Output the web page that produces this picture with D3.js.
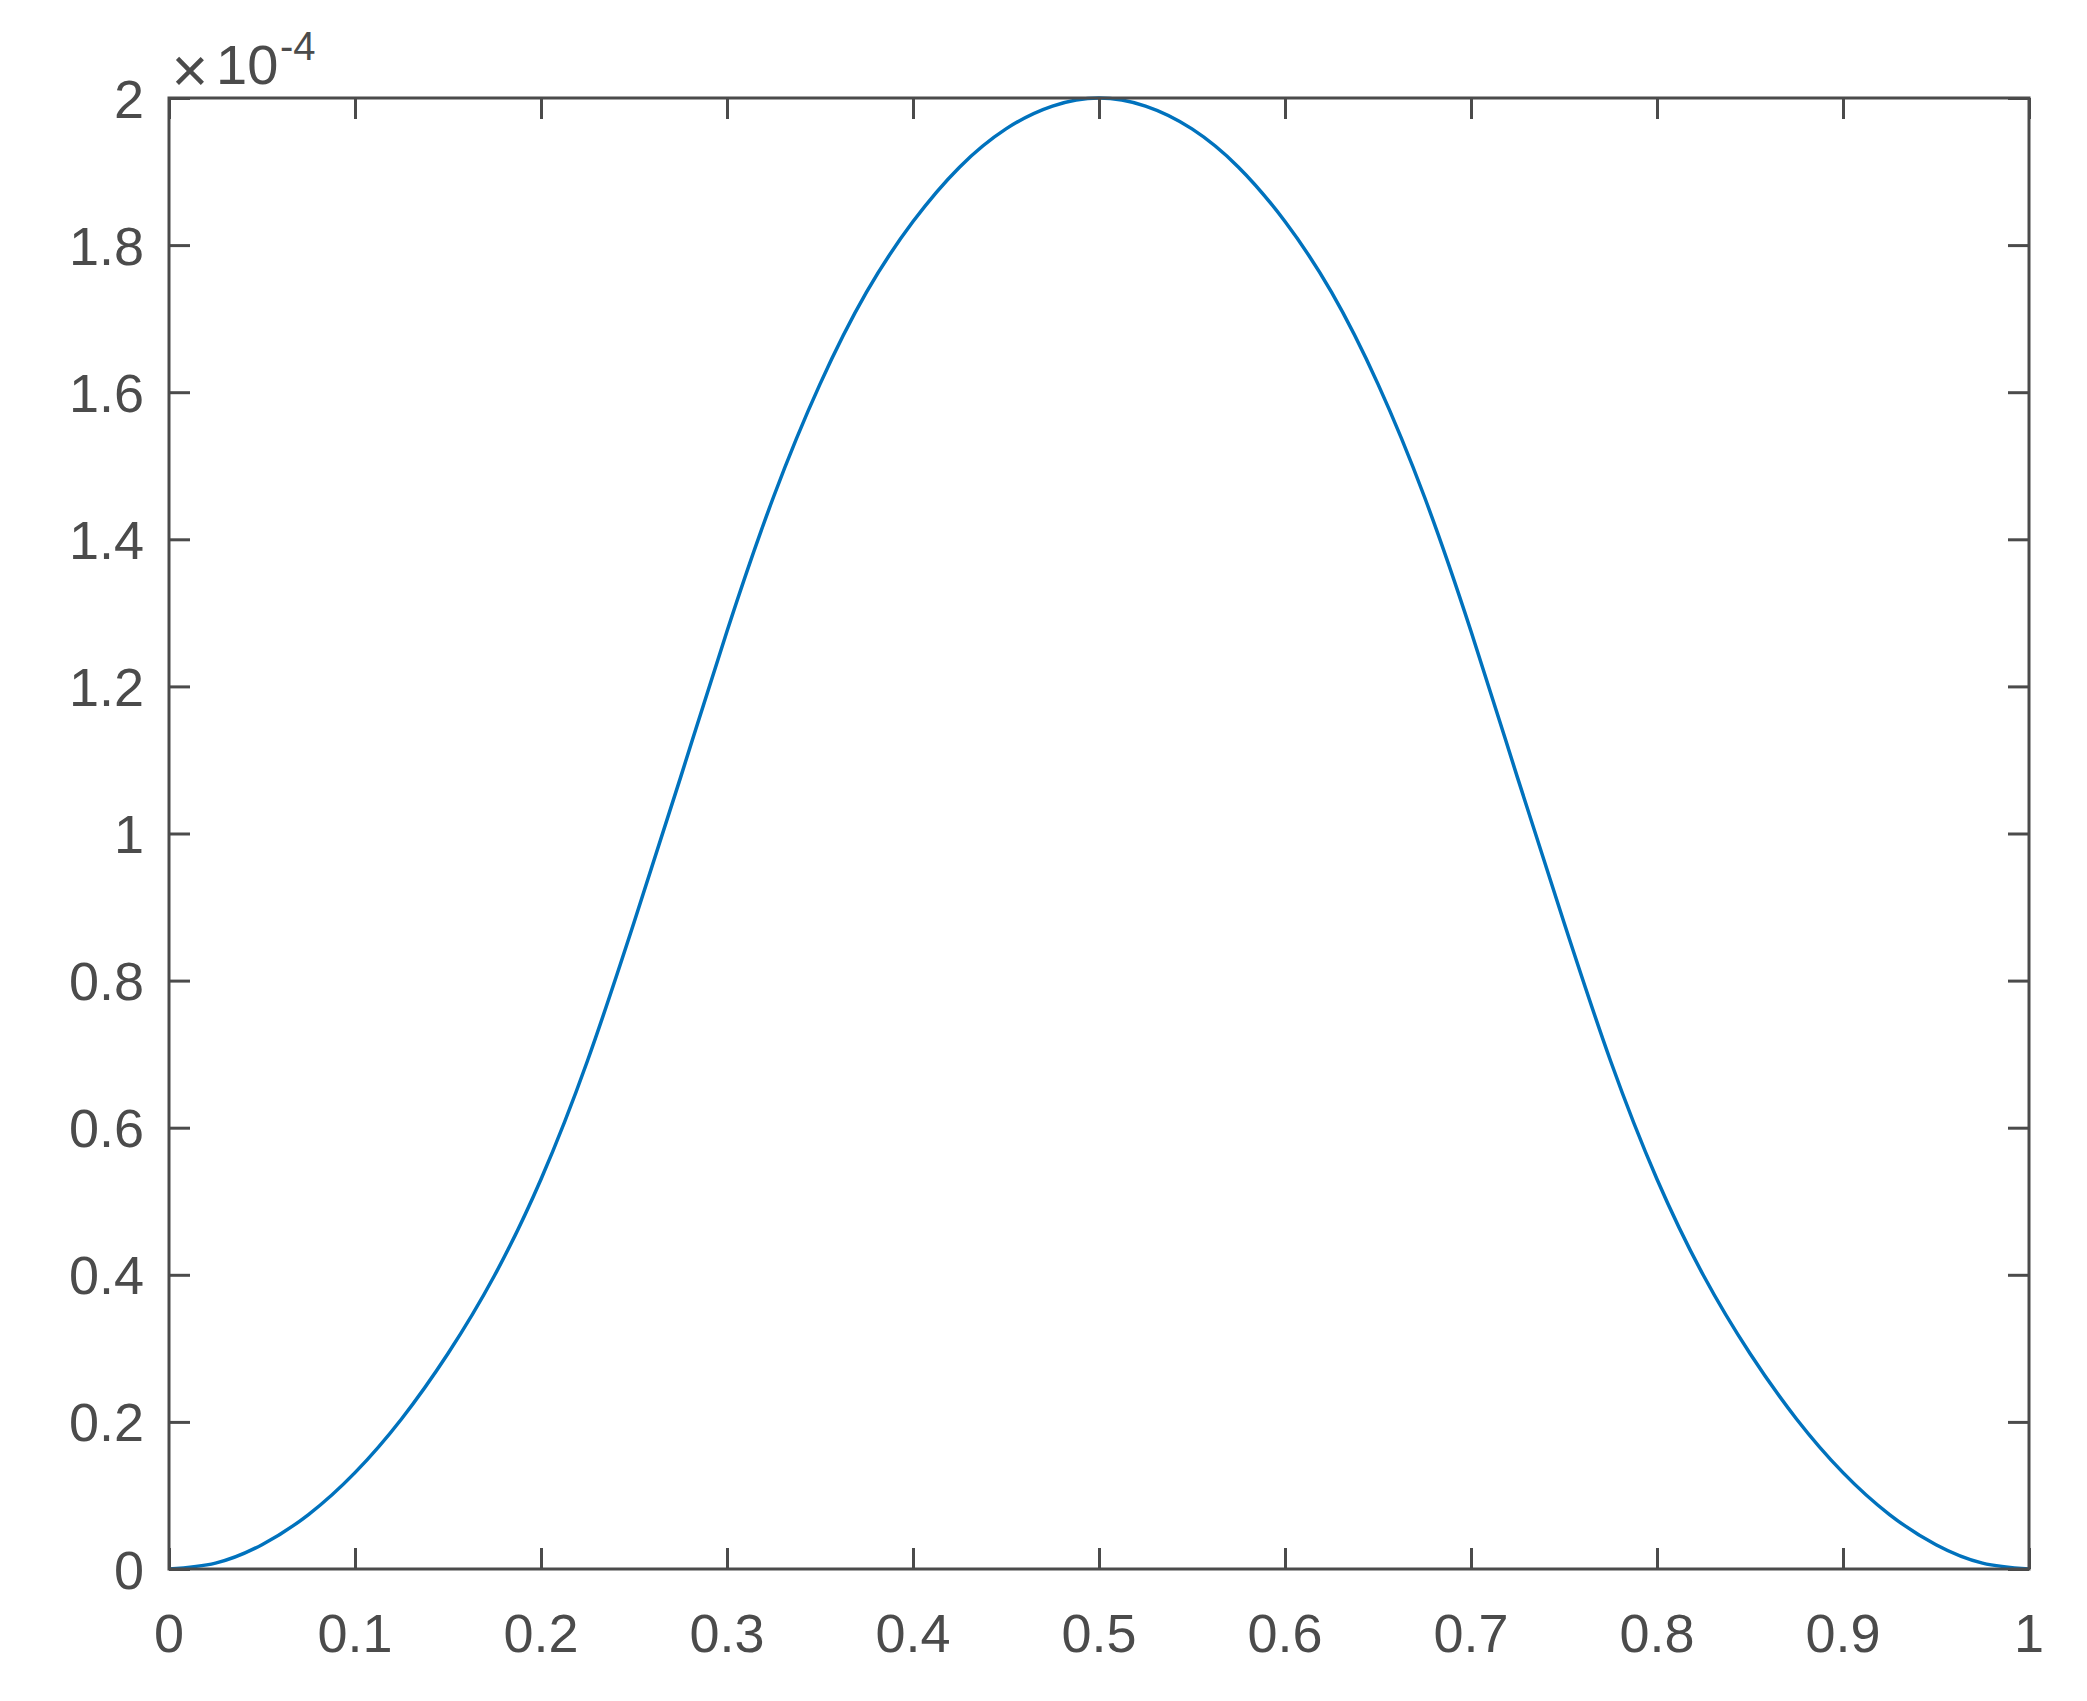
<!DOCTYPE html>
<html>
<head>
<meta charset="utf-8">
<script src="https://cdn.jsdelivr.net/npm/d3@7"></script>
<style>
  html, body { margin: 0; padding: 0; background: #ffffff; }
  svg { display: block; }
  text { font-family: "Liberation Sans", Arial, Helvetica, sans-serif; fill: #4b4b4b; }
</style>
</head>
<body>
<svg id="chart" width="2087" height="1701"></svg>
<script>
// ---- data (y in units of 1e-4) ----
const xValues = [0, 0.025, 0.05, 0.075, 0.1, 0.125, 0.15, 0.175, 0.2, 0.225, 0.25, 0.275, 0.3, 0.325, 0.35, 0.375, 0.4, 0.425, 0.45, 0.475, 0.5,
                 0.525, 0.55, 0.575, 0.6, 0.625, 0.65, 0.675, 0.7, 0.725, 0.75, 0.775, 0.8, 0.825, 0.85, 0.875, 0.9, 0.925, 0.95, 0.975, 1];
const yValues = [0, 0.008, 0.033, 0.074, 0.131, 0.204, 0.293, 0.399, 0.530, 0.691, 0.879, 1.076, 1.275, 1.4575, 1.611, 1.736, 1.832, 1.906, 1.958, 1.989, 2.000,
                 1.989, 1.958, 1.906, 1.832, 1.736, 1.611, 1.4575, 1.275, 1.076, 0.879, 0.691, 0.530, 0.399, 0.293, 0.204, 0.131, 0.074, 0.033, 0.008, 0];
const xTicks = [0, 0.1, 0.2, 0.3, 0.4, 0.5, 0.6, 0.7, 0.8, 0.9, 1];
const yTicks = [0, 0.2, 0.4, 0.6, 0.8, 1, 1.2, 1.4, 1.6, 1.8, 2];
const xTickLabels = ["0", "0.1", "0.2", "0.3", "0.4", "0.5", "0.6", "0.7", "0.8", "0.9", "1"];
const yTickLabels = ["0", "0.2", "0.4", "0.6", "0.8", "1", "1.2", "1.4", "1.6", "1.8", "2"];
const exponentBase = "10";
const exponentPower = "-4";

// ---- layout ----
const svg = d3.select("#chart");
const plotLeft = 169, plotRight = 2029, plotTop = 98, plotBottom = 1569;
const axisColor = "#4b4b4b";
const lineColor = "#0072BD";
const fontSize = 54;

const x = d3.scaleLinear().domain([0, 1]).range([plotLeft, plotRight]);
const y = d3.scaleLinear().domain([0, 2]).range([plotBottom, plotTop]);

// curve
const pts = xValues.map((v, i) => [v, yValues[i]]);
const line = d3.line().x(d => x(d[0])).y(d => y(d[1])).curve(d3.curveNatural);
svg.append("path")
  .attr("d", line(pts))
  .attr("fill", "none")
  .attr("stroke", lineColor)
  .attr("stroke-width", 3.5)
  .attr("stroke-linejoin", "round");

// axes (ticks pointing inward on all four sides)
function styleAxis(g) {
  g.selectAll(".domain").remove();
  g.selectAll(".tick line").attr("stroke", axisColor).attr("stroke-width", 3);
  g.selectAll("text").remove();
}
svg.append("g").attr("transform", `translate(0,${plotBottom})`)
  .call(d3.axisBottom(x).tickValues(xTicks).tickSize(-21)).call(styleAxis);
svg.append("g").attr("transform", `translate(0,${plotTop})`)
  .call(d3.axisTop(x).tickValues(xTicks).tickSize(-21)).call(styleAxis);
svg.append("g").attr("transform", `translate(${plotLeft},0)`)
  .call(d3.axisLeft(y).tickValues(yTicks).tickSize(-21)).call(styleAxis);
svg.append("g").attr("transform", `translate(${plotRight},0)`)
  .call(d3.axisRight(y).tickValues(yTicks).tickSize(-21)).call(styleAxis);

// box
svg.append("rect")
  .attr("x", plotLeft).attr("y", plotTop)
  .attr("width", plotRight - plotLeft).attr("height", plotBottom - plotTop)
  .attr("fill", "none").attr("stroke", axisColor).attr("stroke-width", 3);

// tick labels
svg.append("g").selectAll("text").data(xTicks).join("text")
  .attr("x", d => x(d))
  .attr("y", 1652)
  .attr("text-anchor", "middle")
  .attr("font-size", fontSize)
  .text((d, i) => xTickLabels[i]);

svg.append("g").selectAll("text").data(yTicks).join("text")
  .attr("x", 144)
  .attr("y", d => y(d) + 19.5)
  .attr("text-anchor", "end")
  .attr("font-size", fontSize)
  .text((d, i) => yTickLabels[i]);

// exponent label  ×10^-4
svg.append("text").attr("x", 190).attr("y", 92).attr("text-anchor", "middle").attr("font-size", 63).text("\u00D7");
svg.append("text").attr("x", 216).attr("y", 84).attr("font-size", 56).text(exponentBase);
svg.append("text").attr("x", 280).attr("y", 60).attr("font-size", 40).text(exponentPower);
</script>
</body>
</html>
